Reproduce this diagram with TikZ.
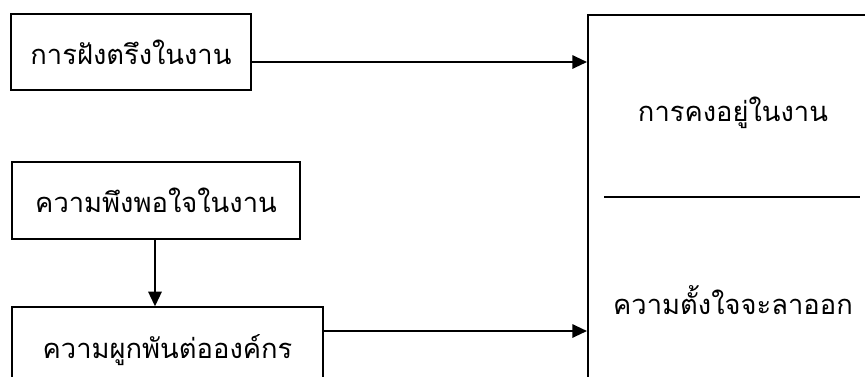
\documentclass[tikz,border=0pt]{standalone}
\usepackage{fontspec}
\newfontfamily\thaifont[Script=Thai]{Loma}
\usetikzlibrary{arrows.meta}
\tikzset{
  box/.style={draw, line width=1pt, inner sep=0pt, font=\thaifont\fontsize{20.5pt}{24pt}\selectfont},
  lbl/.style={inner sep=0pt, font=\thaifont\fontsize{20.5pt}{24pt}\selectfont},
  conn/.style={line width=1.5pt, -{Triangle[length=11pt,width=10pt]}}
}
\begin{document}
\begin{tikzpicture}[x=0.75pt,y=-0.75pt]
\useasboundingbox (0,0) rectangle (865,376);
\clip (0,0) rectangle (865,376);
\node[box, minimum width=180pt, minimum height=57pt] (b1) at (131,52) {การฝังตรึงในงาน};
\node[box, minimum width=216pt, minimum height=57.75pt] (b2) at (156,200.5) {ความพึงพอใจในงาน};
\node[box, minimum width=233.25pt, minimum height=64.5pt] (b3) at (167.5,350) {ความผูกพันต่อองค์กร};
\node[draw, line width=1.2pt, inner sep=0pt, anchor=north west, minimum width=240pt, minimum height=300pt] (rb) at (587,14) {};
\node[lbl] (t1) at (733,113) {การคงอยู่ในงาน};
\node[lbl] (t2) at (733,300) {ความตั้งใจจะลาออก};
\coordinate (d1) at (604,197);
\coordinate (d2) at (860,197);
\draw[line width=1.5pt] (d1) -- (d2);
\coordinate (a1) at (251,62);
\coordinate (a2) at (323,331);
\coordinate (v1) at (155,239);
\draw[conn] (a1) -- (a1 -| rb.west);
\draw[conn] (a2) -- (a2 -| rb.west);
\draw[conn] (v1) -- (v1 |- b3.north);
\end{tikzpicture}
\end{document}
